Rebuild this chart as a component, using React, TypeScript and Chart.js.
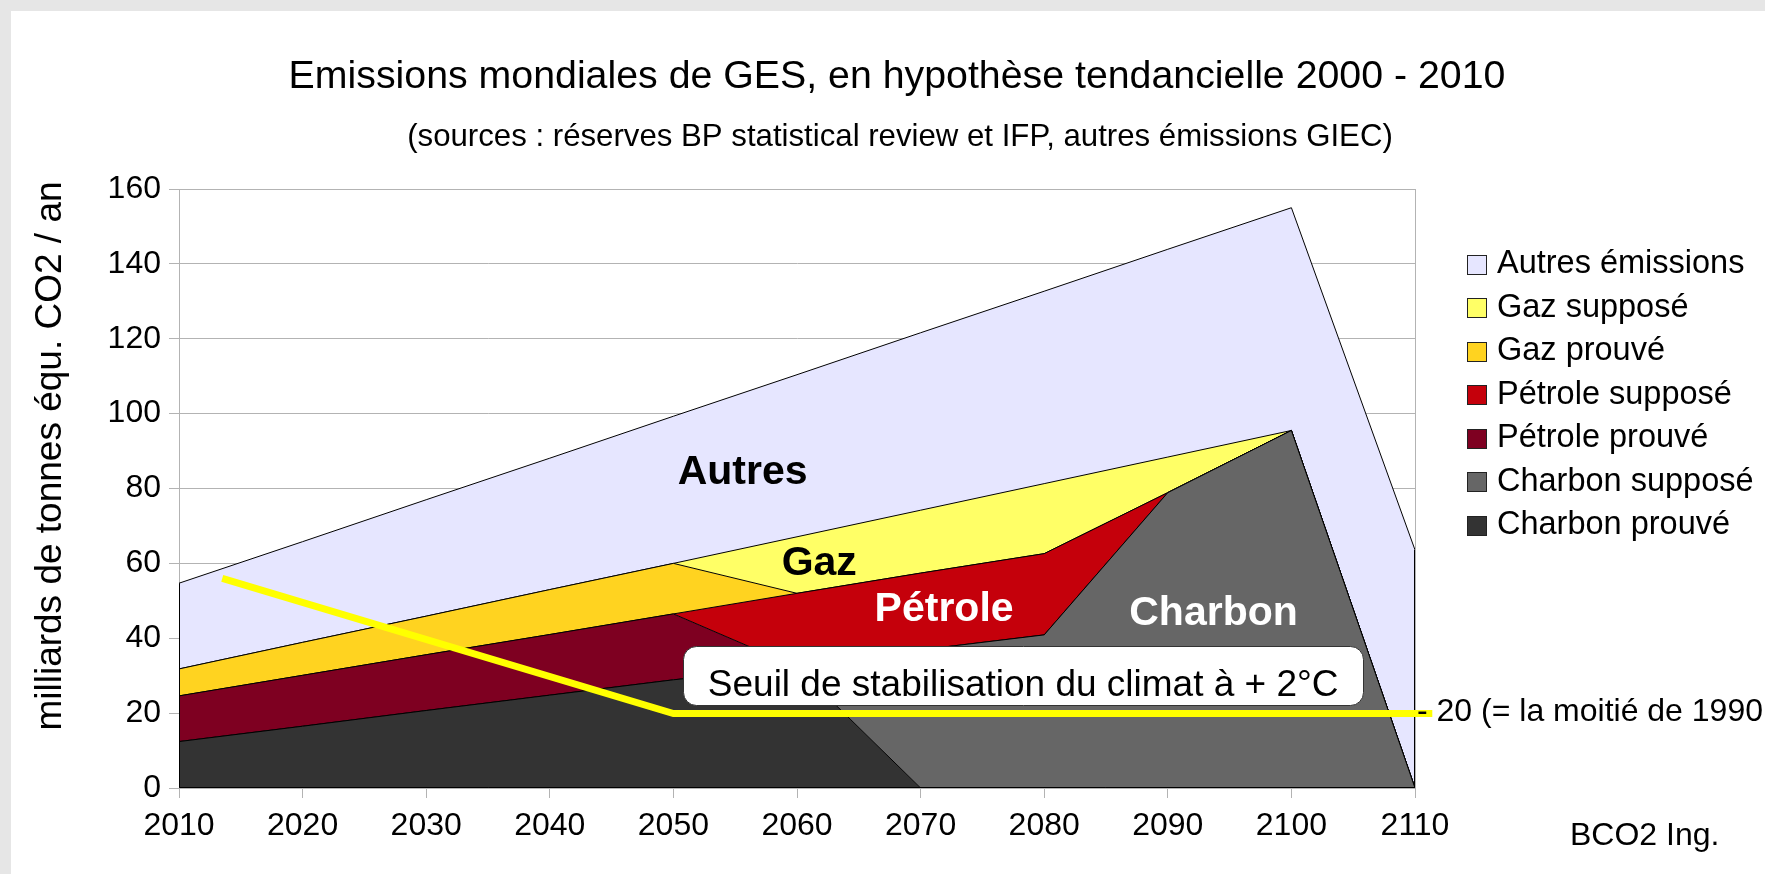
import React, { useEffect, useRef } from 'react';
import { Chart, registerables } from 'chart.js';

Chart.register(...registerables);

const W = 1765;
const H = 874;
const FONT = "'Liberation Sans', Arial, sans-serif";

// ---- data ----
const years = [2010, 2020, 2030, 2040, 2050, 2060, 2070, 2080, 2090, 2100, 2110];
const charbonProuve = [12.4, 16.5, 20.7, 24.8, 28.9, 32.3, 0, 0, 0, 0, 0];
const charbonSuppose = [0, 0, 0, 0, 0, 0, 36.9, 40.9, 78.9, 95.5, 0];
const petroleProuve = [12.2, 13.6, 14.9, 16.2, 17.6, 0, 0, 0, 0, 0, 0];
const petroleSuppose = [0, 0, 0, 0, 0, 19.7, 20.5, 21.7, 0, 0, 0];
const gazProuve = [7.2, 8.8, 10.3, 12.0, 13.5, 0, 0, 0, 0, 0, 0];
const gazSuppose = [0, 0, 0, 0, 0, 15.1, 16.8, 18.7, 9.5, 0, 0];
const autres = [22.9, 26.9, 31.1, 35.1, 39.3, 43.3, 47.4, 51.4, 55.5, 59.5, 63.6];

const seriesLabels = [
  'Charbon prouvé',
  'Charbon supposé',
  'Pétrole prouvé',
  'Pétrole supposé',
  'Gaz prouvé',
  'Gaz supposé',
  'Autres émissions',
];
const seriesValues = [charbonProuve, charbonSuppose, petroleProuve, petroleSuppose, gazProuve, gazSuppose, autres];
const seriesColors = ['#333333', '#666666', '#7e0021', '#c5000b', '#ffd320', '#ffff66', '#e6e6ff'];

const seuilYears = [2013.5, 2050, 2111.4];
const seuilValues = [56, 19.9, 19.9];

const yMin = 0;
const yMax = 160;
const yStep = 20;
const xMin = 2010;
const xMax = 2110;
const xStep = 10;

const titleText = 'Emissions mondiales de GES, en hypothèse tendancielle 2000 - 2010';
const subtitleText = '(sources : réserves BP statistical review et IFP, autres émissions GIEC)';
const yAxisTitle = 'milliards de tonnes équ. CO2 / an';
const seuilLabel = 'Seuil de stabilisation du climat à + 2°C';
const seuilNote = '- 20 (= la moitié de 1990';
const creditText = 'BCO2 Ing.';

const areaLabels = [
  { text: 'Autres', x: 2055.6, y: 84.2, color: '#000' },
  { text: 'Gaz', x: 2061.8, y: 60.0, color: '#000' },
  { text: 'Pétrole', x: 2071.9, y: 47.5, color: '#fff' },
  { text: 'Charbon', x: 2093.7, y: 46.5, color: '#fff' },
];

function roundRect(ctx: CanvasRenderingContext2D, x: number, y: number, w: number, h: number, r: number) {
  ctx.beginPath();
  ctx.moveTo(x + r, y);
  ctx.lineTo(x + w - r, y);
  ctx.arcTo(x + w, y, x + w, y + r, r);
  ctx.lineTo(x + w, y + h - r);
  ctx.arcTo(x + w, y + h, x + w - r, y + h, r);
  ctx.lineTo(x + r, y + h);
  ctx.arcTo(x, y + h, x, y + h - r, r);
  ctx.lineTo(x, y + r);
  ctx.arcTo(x, y, x + r, y, r);
  ctx.closePath();
}

const decorPlugin = {
  id: 'decor',
  beforeDraw(chart: any) {
    const ctx = chart.ctx as CanvasRenderingContext2D;
    ctx.save();
    ctx.fillStyle = '#e6e6e6';
    ctx.fillRect(0, 0, W, H);
    ctx.fillStyle = '#ffffff';
    ctx.fillRect(11, 11, W - 11, H - 11);
    ctx.restore();
  },
  beforeDatasetsDraw(chart: any) {
    const ctx = chart.ctx as CanvasRenderingContext2D;
    const a = chart.chartArea;
    ctx.save();
    ctx.strokeStyle = '#b3b3b3';
    ctx.lineWidth = 1;
    ctx.strokeRect(Math.round(a.left) + 0.5, Math.round(a.top) + 0.5, Math.round(a.right - a.left), Math.round(a.bottom - a.top));
    ctx.restore();
  },
  afterDatasetDraw(chart: any, args: any) {
    if (args.index !== 0) return;
    const ctx = chart.ctx as CanvasRenderingContext2D;
    const xs = chart.scales.x;
    const ys = chart.scales.y;
    const last = years.length - 1;
    const topFirst = seriesValues.reduce((s, arr) => s + arr[0], 0);
    const topLast = seriesValues.reduce((s, arr) => s + arr[last], 0);
    const x0 = Math.round(xs.getPixelForValue(years[0])) + 0.5;
    const x1 = Math.round(xs.getPixelForValue(years[last])) - 0.5;
    const yb = Math.round(ys.getPixelForValue(0)) - 0.5;
    ctx.save();
    ctx.strokeStyle = '#000';
    ctx.lineWidth = 1;
    ctx.beginPath();
    ctx.moveTo(x0, ys.getPixelForValue(topFirst));
    ctx.lineTo(x0, yb);
    ctx.lineTo(x1, yb);
    ctx.lineTo(x1, ys.getPixelForValue(topLast));
    ctx.stroke();
    ctx.restore();
  },
  afterDraw(chart: any) {
    const ctx = chart.ctx as CanvasRenderingContext2D;
    const xs = chart.scales.x;
    const ys = chart.scales.y;
    ctx.save();
    ctx.textBaseline = 'middle';

    // titles
    ctx.fillStyle = '#000';
    ctx.textAlign = 'center';
    ctx.font = `39.3px ${FONT}`;
    ctx.fillText(titleText, 897, 77);
    ctx.font = `31.2px ${FONT}`;
    ctx.fillText(subtitleText, 900, 137);

    // y-axis title
    ctx.save();
    ctx.translate(51, 456);
    ctx.rotate(-Math.PI / 2);
    ctx.font = `37px ${FONT}`;
    ctx.fillText(yAxisTitle, 0, 0);
    ctx.restore();

    // area labels
    ctx.font = `bold 41px ${FONT}`;
    for (const l of areaLabels) {
      ctx.fillStyle = l.color;
      ctx.fillText(l.text, xs.getPixelForValue(l.x), ys.getPixelForValue(l.y));
    }

    // threshold box
    const bx0 = xs.getPixelForValue(2050.8);
    const bx1 = xs.getPixelForValue(2105.8);
    const by0 = ys.getPixelForValue(37.8);
    const by1 = ys.getPixelForValue(22.0);
    roundRect(ctx, Math.round(bx0) + 0.5, Math.round(by0) + 0.5, Math.round(bx1 - bx0), Math.round(by1 - by0), 13);
    ctx.fillStyle = '#fff';
    ctx.fill();
    ctx.strokeStyle = '#333';
    ctx.lineWidth = 1;
    ctx.stroke();
    ctx.fillStyle = '#000';
    ctx.font = `37px ${FONT}`;
    ctx.textAlign = 'center';
    ctx.fillText(seuilLabel, (bx0 + bx1) / 2, by0 + (by1 - by0) * 0.66);

    // threshold note
    ctx.textAlign = 'left';
    ctx.font = `32px ${FONT}`;
    ctx.fillText(seuilNote, 1417, ys.getPixelForValue(seuilValues[2]) - 1);

    // credit
    ctx.fillText(creditText, 1570, 836);

    // legend
    ctx.font = `32.5px ${FONT}`;
    const n = seriesLabels.length;
    for (let i = 0; i < n; i++) {
      const k = n - 1 - i;
      const cy = 264.3 + i * 43.5;
      ctx.fillStyle = seriesColors[k];
      ctx.fillRect(1467.5, Math.round(cy - 9.5) + 0.5, 19, 19);
      ctx.strokeStyle = '#222';
      ctx.strokeRect(1467.5, Math.round(cy - 9.5) + 0.5, 19, 19);
      ctx.fillStyle = '#000';
      ctx.fillText(seriesLabels[k], 1497, cy);
    }
    ctx.restore();
  },
};

export default function App() {
  const ref = useRef<HTMLCanvasElement | null>(null);
  useEffect(() => {
    if (!ref.current) return;
    const datasets: any[] = seriesValues.map((vals, i) => ({
      label: seriesLabels[i],
      data: years.map((x, j) => ({ x, y: vals[j] })),
      backgroundColor: seriesColors[i],
      borderColor: '#000',
      borderWidth: 1,
      fill: i === 0 ? 'origin' : '-1',
      pointRadius: 0,
      tension: 0,
      stack: 'ges',
    }));
    datasets.push({
      label: 'Seuil',
      data: seuilYears.map((x, j) => ({ x, y: seuilValues[j] })),
      borderColor: '#ffff00',
      backgroundColor: '#ffff00',
      borderWidth: 7,
      fill: false,
      pointRadius: 0,
      tension: 0,
      stack: 'seuil',
      order: -1,
      clip: false,
      borderJoinStyle: 'miter',
      borderCapStyle: 'butt',
    });
    const tickFont = { family: FONT, size: 32 };
    const chart = new Chart(ref.current, {
      type: 'line',
      data: { datasets },
      plugins: [decorPlugin],
      options: {
        responsive: false,
        animation: false,
        devicePixelRatio: 1,
        layout: { padding: { left: 0, top: 189, right: W - 1415, bottom: 26 } },
        plugins: {
          legend: { display: false },
          title: { display: false },
          tooltip: { enabled: false },
        },
        elements: { point: { radius: 0 }, line: { tension: 0 } },
        scales: {
          x: {
            type: 'linear',
            min: xMin,
            max: xMax,
            ticks: { stepSize: xStep, font: tickFont, color: '#000', padding: 9, maxRotation: 0, callback: (v: any) => String(v) },
            grid: { drawOnChartArea: false, color: '#b3b3b3', tickLength: 10 },
            border: { color: '#b3b3b3' },
            afterFit: (s: any) => { s.height = 60; },
          },
          y: {
            stacked: true,
            min: yMin,
            max: yMax,
            ticks: { stepSize: yStep, font: tickFont, color: '#000', padding: 8 },
            grid: { color: '#b3b3b3', tickLength: 10 },
            border: { color: '#b3b3b3' },
            afterFit: (s: any) => { s.width = 179; },
          },
        },
      } as any,
    });
    return () => chart.destroy();
  }, []);
  return (
    <div style={{ position: 'absolute', left: 0, top: 0, width: W, height: H }}>
      <canvas ref={ref} width={W} height={H} style={{ display: 'block', width: W, height: H }} />
    </div>
  );
}
